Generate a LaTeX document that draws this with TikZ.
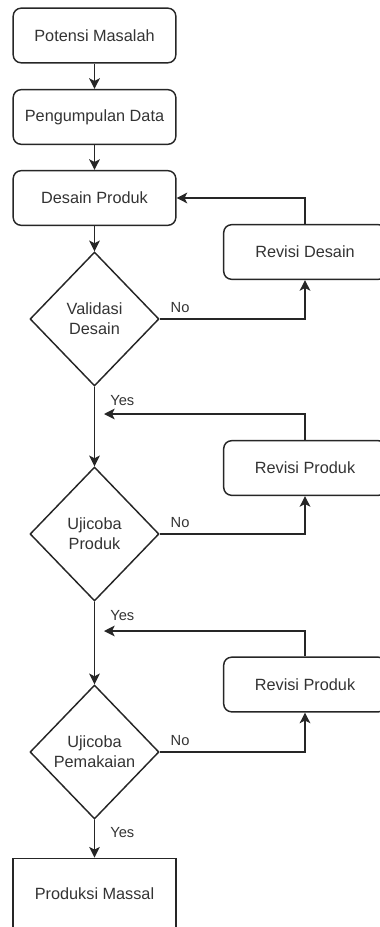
\documentclass[tikz,border=0pt]{standalone}
\usepackage{fontspec}
\setmainfont{Liberation Sans}
\usetikzlibrary{shapes.geometric, arrows.meta, positioning}

\begin{document}
\begin{tikzpicture}[x=0.75pt, y=-0.75pt,
  every node/.style={text=black!80, font=\fontsize{12.2}{15}\selectfont},
  process/.style={draw=black!85, line width=1.1pt, rounded corners=6pt, minimum width=122pt, minimum height=41pt, inner sep=0pt},
  endbox/.style={draw=black!85, line width=1.1pt, minimum width=122pt, minimum height=53.5pt, inner sep=0pt},
  decision/.style={diamond, draw=black!85, line width=1.1pt, minimum width=96.75pt, minimum height=100.5pt, inner sep=0pt, align=center},
  flow/.style={draw=black!85, line width=1.1pt, -{Stealth[length=8pt, width=8pt, inset=2pt]}},
  lbl/.style={font=\fontsize{11}{13}\selectfont}]
\useasboundingbox (0,0) rectangle (379,927);

\node[process] (potensi) at (94.5,35.5) {Potensi Masalah};
\node[process] (data) at (94.5,117) {Pengumpulan Data};
\node[process] (desain) at (94.5,198) {Desain Produk};
\node[decision] (validasi) at (94.5,319) {Validasi\\Desain};
\node[process] (revdesain) at (305,252) {Revisi Desain};
\node[decision] (ujiproduk) at (94.5,534) {Ujicoba\\Produk};
\node[process] (revproduk1) at (305,468) {Revisi Produk};
\node[decision] (ujipakai) at (94.5,752) {Ujicoba\\Pemakaian};
\node[process] (revproduk2) at (305,684.5) {Revisi Produk};
\node[endbox] (massal) at (94.5,894) {Produksi Massal};
\coordinate (join1) at (104,414);
\coordinate (join2) at (104,631);

\draw[flow] (potensi) -- (data);
\draw[flow] (data) -- (desain);
\draw[flow] (desain) -- (validasi);
\draw[flow] (validasi.east) -| node[lbl, pos=0.07, above=1pt] {No} (revdesain.south);
\draw[flow] (revdesain.north) |- (desain.east);
\draw[flow] (validasi.south) -- node[lbl, pos=0.17, right=8pt] {Yes} (ujiproduk.north);
\draw[flow] (ujiproduk.east) -| node[lbl, pos=0.07, above=1pt] {No} (revproduk1.south);
\draw[flow] (revproduk1.north) |- (join1);
\draw[flow] (ujiproduk.south) -- node[lbl, pos=0.17, right=8pt] {Yes} (ujipakai.north);
\draw[flow] (ujipakai.east) -| node[lbl, pos=0.07, above=1pt] {No} (revproduk2.south);
\draw[flow] (revproduk2.north) |- (join2);
\draw[flow] (ujipakai.south) -- node[lbl, pos=0.35, right=8pt] {Yes} (massal.north);

\end{tikzpicture}
\end{document}
